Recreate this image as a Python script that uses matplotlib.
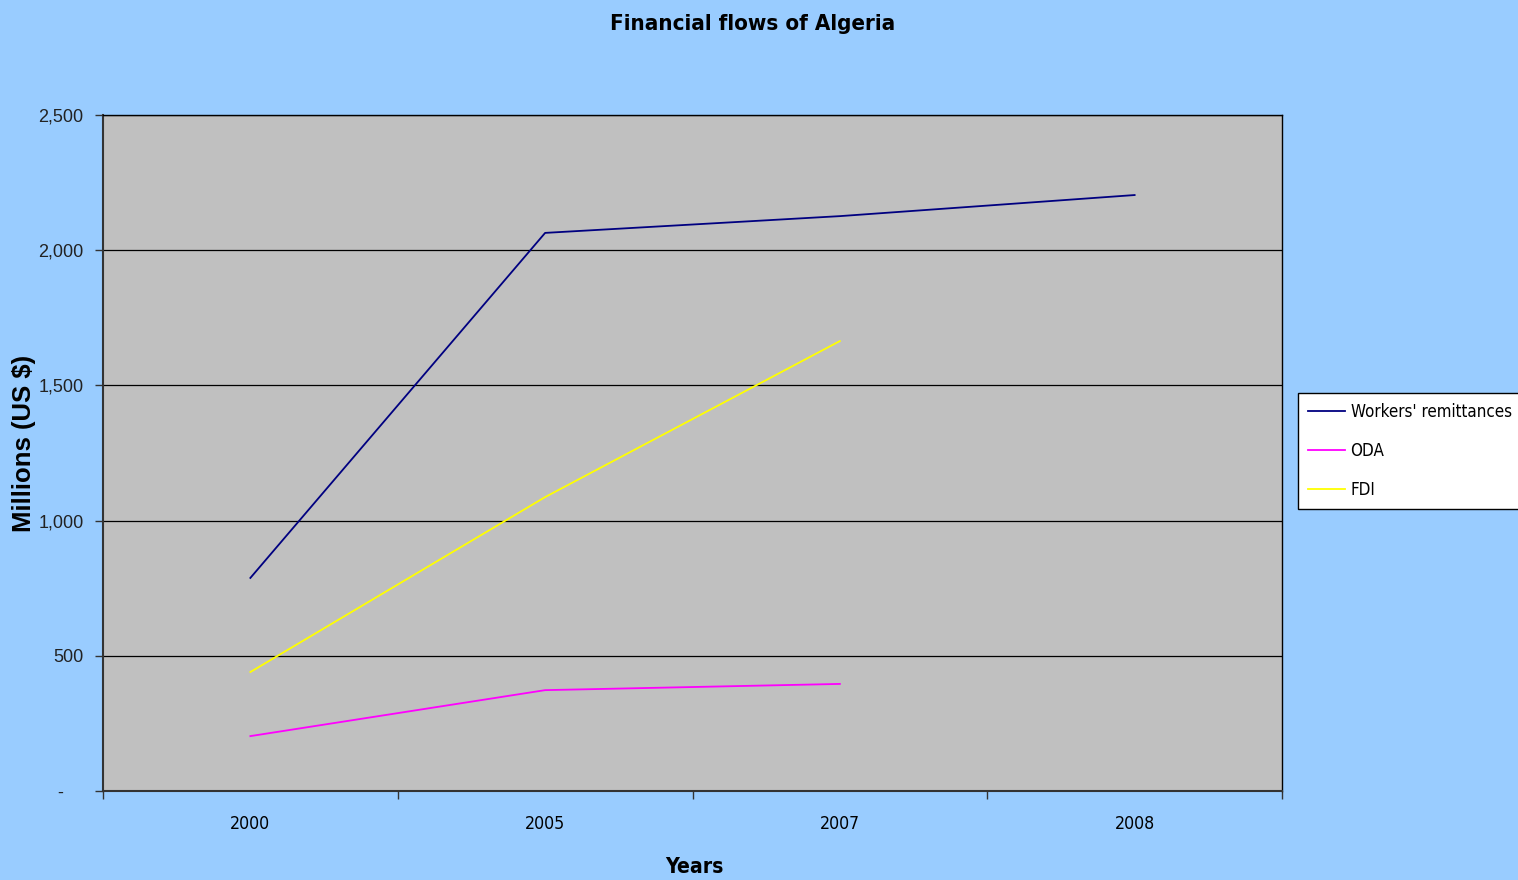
import matplotlib.pyplot as plt
from matplotlib.font_manager import FontProperties
from matplotlib.ticker import FuncFormatter

years = ['2000', '2005', '2007', '2008']
remittances = [788, 2064, 2126, 2204]
oda = [203, 373, 396]
fdi = [440, 1087, 1664]

plt.rcParams['font.family'] = ['Liberation Sans', 'DejaVu Sans']


def narrow(size, weight='normal'):
    # stand-in for Arial Narrow
    return FontProperties(family='DejaVu Sans', stretch='condensed', size=size, weight=weight)


fig = plt.figure(figsize=(15.18, 8.8), dpi=100, facecolor='#99CCFF')
ax = fig.add_axes([103 / 1518, 1 - 791 / 880, (1282 - 103) / 1518, (791 - 115) / 880])
ax.set_facecolor('#C0C0C0')

x = [i + 0.5 for i in range(len(years))]
ax.plot(x[:len(remittances)], remittances, color='#000080', lw=1.3, label="Workers' remittances")
ax.plot(x[:len(oda)], oda, color='#FF00FF', lw=1.3, label='ODA')
ax.plot(x[:len(fdi)], fdi, color='#FFFF00', lw=1.3, label='FDI')

ax.set_xlim(0, len(years))
ax.set_ylim(0, 2500)
ax.set_yticks([0, 500, 1000, 1500, 2000, 2500])
# excel accounting style: zero shown as a dash
ax.yaxis.set_major_formatter(FuncFormatter(lambda v, p: '-    ' if v == 0 else f'{v:,.0f}'))
ax.set_xticks(range(len(years) + 1))
ax.set_xticklabels([])
ax.set_xticks(x, minor=True)
ax.set_xticklabels(years, minor=True, fontproperties=narrow(12.7))
ax.tick_params(axis='x', which='minor', length=0, pad=17)
ax.tick_params(axis='x', which='major', length=6, width=1, color='#333333', direction='out')
ax.tick_params(axis='y', length=6, width=1, color='#333333', labelsize=13, pad=8, labelcolor='#222222')
ax.grid(axis='y', color='black', lw=0.9)

for s in ['top', 'right']:
    ax.spines[s].set_color('black')
    ax.spines[s].set_linewidth(1)
for s in ['left', 'bottom']:
    ax.spines[s].set_color('#333333')
    ax.spines[s].set_linewidth(1.5)

fig.text(24 / 1518, 1 - 443 / 880, 'Millions (US $)', rotation=90, ha='center', va='center',
         fontproperties=FontProperties(family='Liberation Sans', size=18.5, weight='bold'))
fig.text(694 / 1518, 1 - 867 / 880, 'Years', ha='center', va='center',
         fontproperties=narrow(15.2, 'bold'))
fig.text(753 / 1518, 1 - 24 / 880, 'Financial flows of Algeria', ha='center', va='center',
         fontproperties=narrow(16, 'bold'))

leg = fig.legend(loc='upper left', bbox_to_anchor=(1298 / 1518, 1 - 393 / 880),
                 prop=narrow(12.2), frameon=True, fancybox=False, framealpha=1,
                 handlelength=2.2, handletextpad=0.3, labelspacing=1.22, borderpad=0.6,
                 borderaxespad=0)
leg.get_frame().set_edgecolor('black')
leg.get_frame().set_linewidth(1)
leg.get_frame().set_facecolor('white')

fig.savefig('out.png', dpi=100, facecolor='#99CCFF')
